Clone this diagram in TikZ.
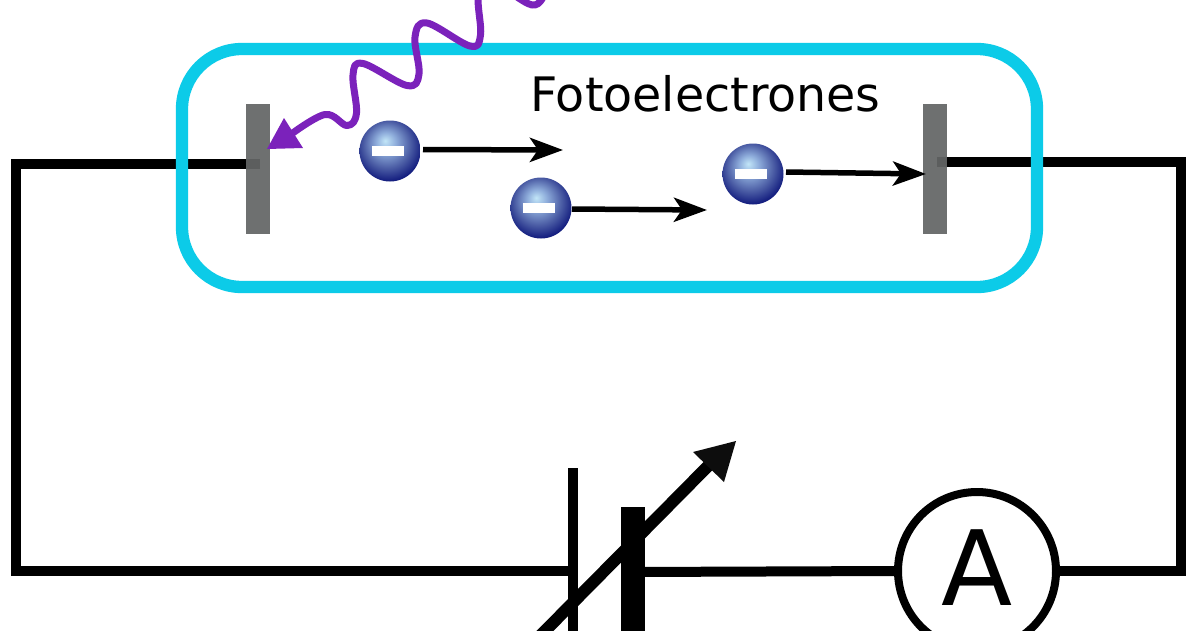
\documentclass[tikz,border=0pt]{standalone}
\usepackage{fontspec}
\setmainfont{DejaVu Sans}
\usetikzlibrary{arrows.meta,backgrounds}
\definecolor{glass}{HTML}{0CCBE8}
\definecolor{photon}{HTML}{7B22BB}
\definecolor{platec}{HTML}{636666}
\pgfdeclareradialshading{elec}{\pgfpoint{-4bp}{8.5bp}}{
  rgb(0bp)=(0.76,0.90,0.97);
  rgb(8bp)=(0.56,0.68,0.86);
  rgb(19bp)=(0.30,0.37,0.65);
  rgb(28bp)=(0.08,0.12,0.50);
  rgb(35bp)=(0,0,0.42);
  rgb(50bp)=(0,0,0.42)}
\tikzset{
  wire/.style={draw=black,line width=10pt,line join=miter},
  plate/.style={rectangle,fill=platec,fill opacity=.93,minimum width=24pt,minimum height=130pt,inner sep=0pt},
  electron/.style={circle,shading=elec,minimum size=61pt,inner sep=0pt},
  minusbar/.style={rectangle,fill=white,minimum width=32pt,minimum height=10pt,inner sep=0pt},
  motion/.style={draw=black,line width=5.5pt,-{Stealth[length=33pt,width=24pt,inset=8pt]}},
  label/.style={inner sep=0pt,text=black}
}
\begin{document}
\begin{tikzpicture}[x=1pt,y=-1pt]
\clip[use as bounding box] (0,0) rectangle (1200,630);
\begin{scope}[on background layer]
  \fill[white] (0,0) rectangle (1200,630);
\end{scope}
% tube
\node[draw=glass,line width=12.3pt,rounded corners=60pt,minimum width=855pt,minimum height=238pt,inner sep=0pt] (tube) at (609.5,168) {};
% plates
\node[plate] (pl) at (258,169) {};
\node[plate] (pr) at (935,169) {};
% text
\node[label,font=\fontsize{47.5pt}{52pt}\selectfont,anchor=base] (txt) at (705.5,111) {Fotoelectrones};
% electrons
\node[electron] (e1) at (390,151) {};
\node[minusbar] (m1) at (388,151) {};
\node[electron] (e2) at (541,208) {};
\node[minusbar] (m2) at (539,208) {};
\node[electron] (e3) at (753,174) {};
\node[minusbar] (m3) at (751,173.5) {};
\coordinate (a1) at (563,150);
\coordinate (a2) at (707,210);
\coordinate (a3) at (926,174);
\coordinate (s1) at (423,149.5);
\coordinate (s2) at (572,209);
\coordinate (s3) at (786,172);
\draw[motion] (s1) -- (a1);
\draw[motion] (s2) -- (a2);
\draw[motion] (s3) -- (a3);
% ammeter
\node[circle,draw=black,line width=8pt,fill=white,minimum size=158pt,inner sep=0pt] (amm) at (977,571) {};
\node[label,font=\fontsize{104pt}{110pt}\selectfont,anchor=base] (atxt) at (977,605) {A};
% source
\node[rectangle,fill=black,minimum width=10pt,minimum height=182pt,inner sep=0pt] (thin) at (573,559) {};
\node[rectangle,fill=black,minimum width=24pt,minimum height=143pt,inner sep=0pt] (thick) at (633,578.5) {};
\coordinate (dstart) at (535,641);
\coordinate (dend) at (713,461);
\draw[black,line width=12pt] (dstart) -- (dend);
\coordinate (t1) at (736,441);
\coordinate (t2) at (693,452);
\coordinate (t3) at (724,482);
\fill[black!95] (t1) -- (t2) -- (t3) -- cycle;
% wires
\begin{scope}[on background layer]
  \coordinate (wl) at (260,164);
  \coordinate (wr) at (937,162);
  \draw[wire] (wl) -- (16,164) -- (16,571) -- (573,571);
  \draw[wire] (wr) -- (1181,162) -- (1181,571) -- (amm.east);
  \draw[wire] (amm.west) -- (633,572);
\end{scope}
% photon
\coordinate (ptip) at (267,149);
\coordinate (pa) at (284,118);
\coordinate (pb) at (303,148);
\draw[photon,line width=7pt,line cap=round,line join=round]
  plot[smooth,tension=.62] coordinates {(290,135) (325,114.5) (347,125.5) (356.5,113) (353,75) (363,63.5) (407,85.5) (419,74) (415,37) (427,23) (470,46) (480.5,35) (478.5,-5) (492,-18) (532,5) (545,-8)};
\fill[photon] (ptip) -- (pa) -- (pb) -- cycle;
\end{tikzpicture}
\end{document}
